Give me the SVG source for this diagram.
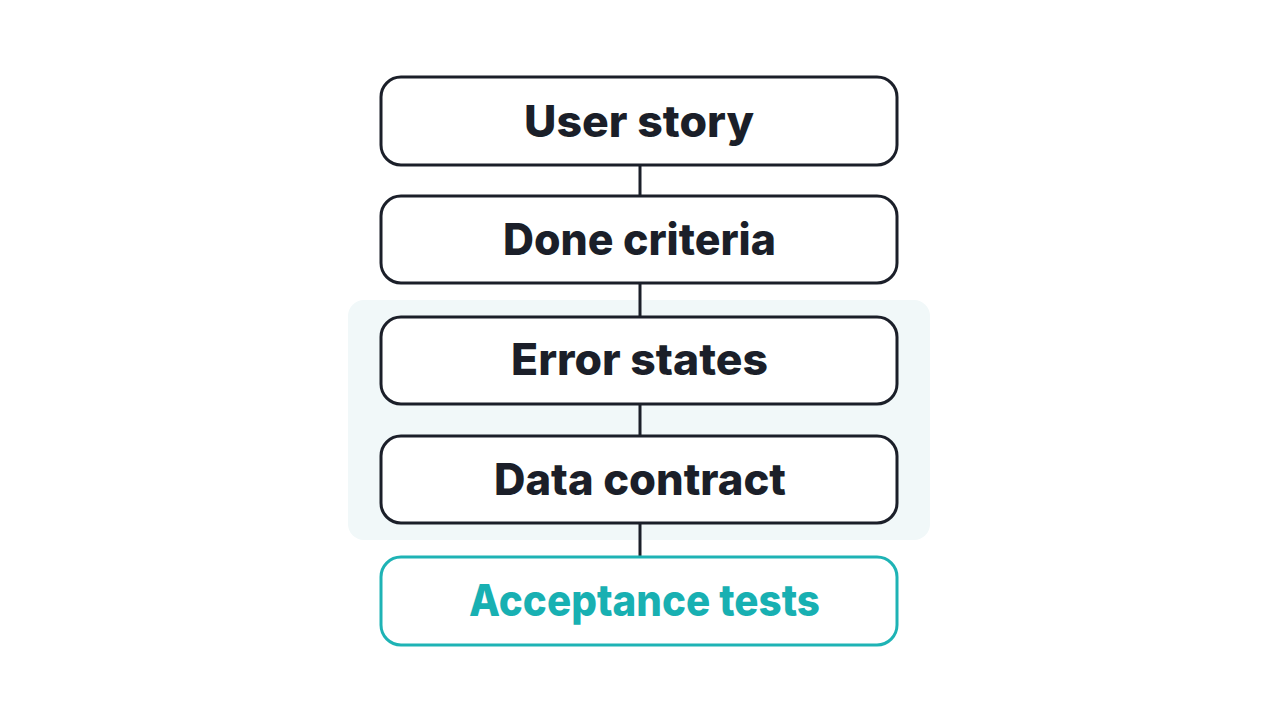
<svg xmlns="http://www.w3.org/2000/svg" width="1279" height="720" viewBox="0 0 1279 720">
<style>
.box{fill:#ffffff;stroke:#1b1f29;stroke-width:3}
.accent{fill:#ffffff;stroke:#1eb3b5;stroke-width:3}
.lbl{font-family:Inter,"Noto Sans",sans-serif;font-weight:800;font-size:44px;fill:#1b1f29;text-anchor:middle}
.lbl-accent{fill:#18b0b2}
.conn{stroke:#1b1f29;stroke-width:3;fill:none}
</style>
<rect width="1279" height="720" fill="#ffffff"/>
<rect id="panel" x="348" y="300" width="582" height="240" rx="16" fill="#f1f8f9"/>
<g id="connectors">
<line class="conn" x1="640" y1="165" x2="640" y2="196"/>
<line class="conn" x1="640" y1="283" x2="640" y2="317"/>
<line class="conn" x1="640" y1="404" x2="640" y2="436"/>
<line class="conn" x1="640" y1="523" x2="640" y2="557"/>
</g>
<g id="user-story">
<rect class="box" x="381" y="77" width="516" height="88" rx="20"/>
<text class="lbl" x="639" y="137" textLength="230" lengthAdjust="spacingAndGlyphs">User story</text>
</g>
<g id="done-criteria">
<rect class="box" x="381" y="196" width="516" height="87" rx="20"/>
<text class="lbl" x="639.5" y="255" textLength="273" lengthAdjust="spacingAndGlyphs">Done criteria</text>
</g>
<g id="error-states">
<rect class="box" x="381" y="317" width="516" height="87" rx="20"/>
<text class="lbl" x="639.5" y="375" textLength="257" lengthAdjust="spacingAndGlyphs">Error states</text>
</g>
<g id="data-contract">
<rect class="box" x="381" y="436" width="516" height="87" rx="20"/>
<text class="lbl" x="640" y="495" textLength="292" lengthAdjust="spacingAndGlyphs">Data contract</text>
</g>
<g id="acceptance-tests">
<rect class="accent" x="381" y="557" width="516" height="88" rx="20"/>
<text class="lbl lbl-accent" x="644.5" y="616" textLength="351" lengthAdjust="spacingAndGlyphs">Acceptance tests</text>
</g>
</svg>
